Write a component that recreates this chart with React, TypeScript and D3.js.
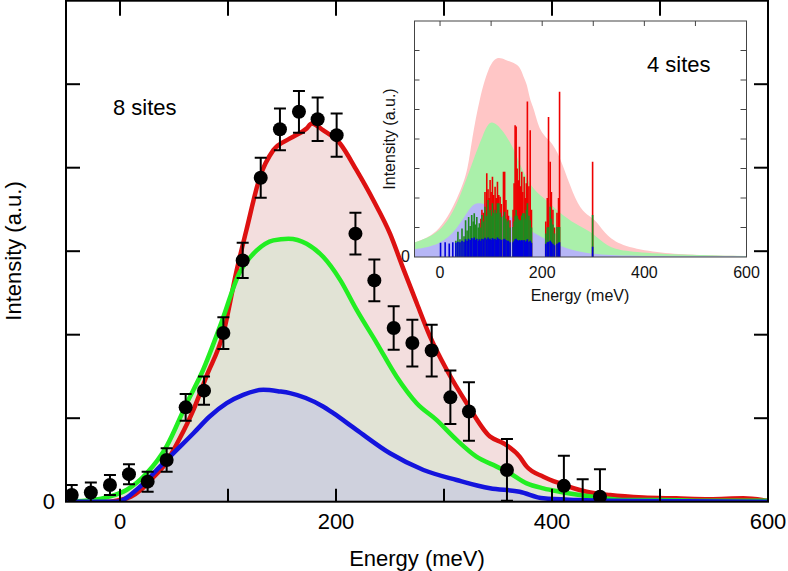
import React from "react";
import * as d3 from "d3";

// ---------- Main panel data (8 sites) ----------
const redCurveE = [-50, -10, 0, 10, 20, 30, 40, 46, 55, 68, 80, 95.7, 108, 117, 129.6, 142, 157.4, 172.8, 177.5, 188, 203.7, 219, 234.6, 250, 262, 274.7, 287, 302.5, 321, 342.6, 355, 370, 376.6, 392, 407, 432, 453.7, 484.5, 515, 546, 577, 600];
const redCurveI = [0, 0, 0.02, 0.06, 0.15, 0.28, 0.42, 0.54, 0.75, 1.1, 1.5, 2.02, 2.77, 3.25, 3.89, 4.21, 4.35, 4.47, 4.53, 4.45, 4.29, 3.97, 3.61, 3.21, 2.8, 2.38, 1.98, 1.58, 1.18, 0.78, 0.7, 0.54, 0.42, 0.3, 0.22, 0.12, 0.08, 0.05, 0.04, 0.03, 0.04, 0.01];

const greenCurveE = [-50, -25, -10, 6, 24.7, 43, 61.8, 77, 92.6, 111, 126.6, 142, 156, 172.8, 188.3, 203.7, 219, 237.7, 256, 274.7, 293, 311.7, 330, 348.8, 361, 376.6, 392, 407, 438, 469, 500, 550, 600];
const greenCurveI = [0, 0.02, 0.06, 0.14, 0.34, 0.66, 1.18, 1.58, 2.1, 2.75, 3.01, 3.13, 3.15, 3.09, 2.93, 2.66, 2.3, 1.9, 1.5, 1.18, 0.98, 0.74, 0.54, 0.42, 0.34, 0.22, 0.16, 0.12, 0.06, 0.02, 0.02, 0.01, 0.01];

const blueCurveE = [-50, -3, 18.5, 37, 52.5, 68, 83, 98.8, 114, 132.7, 148, 157.4, 188, 197.5, 219, 250, 281, 311.7, 342.6, 370, 392, 423, 450, 600];
const blueCurveI = [0, 0, 0.18, 0.42, 0.62, 0.82, 1.02, 1.18, 1.28, 1.34, 1.32, 1.3, 1.14, 1.06, 0.86, 0.58, 0.38, 0.26, 0.16, 0.12, 0.04, 0.02, 0.01, 0];

const pointE = [-44.7, -27, -9.3, 8.3, 25.6, 43.2, 60.8, 77.8, 95.7, 113.6, 130.3, 148.1, 165.7, 183, 200.6, 218, 235.5, 253.4, 270.7, 288.6, 305.9, 323.1, 358.3, 411, 428.4, 444.4];
const pointI = [0.08, 0.11, 0.2, 0.33, 0.24, 0.5, 1.13, 1.33, 2.02, 2.89, 3.88, 4.46, 4.67, 4.58, 4.39, 3.21, 2.65, 2.08, 1.9, 1.81, 1.25, 1.08, 0.38, 0.19, -0.1, 0.06];
const pointErr = [0.12, 0.12, 0.12, 0.12, 0.12, 0.14, 0.16, 0.17, 0.19, 0.21, 0.24, 0.25, 0.25, 0.26, 0.26, 0.25, 0.25, 0.26, 0.28, 0.31, 0.32, 0.35, 0.37, 0.36, 0.37, 0.33];

const mainXTicks = [0, 100, 200, 300, 400, 500];
const mainXLabels = [0, 200, 400, 600];
const mainYTicks = [1, 2, 3, 4, 5];

// ---------- Inset data (4 sites) ----------
const insetPinkE = [-50, 0, 40, 55, 62, 78, 95, 111, 127.5, 143.7, 157, 163, 170, 176, 183, 196, 215.7, 235, 255, 274.5, 294, 307, 327, 359.5, 425, 490, 600];
const insetPinkI = [0.49, 0.8, 2.2, 3.0, 3.97, 5.43, 6.45, 6.81, 6.68, 6.59, 6.45, 6.11, 5.89, 5.32, 5.09, 4.19, 3.97, 3.4, 2.38, 1.6, 1.37, 1.2, 0.69, 0.35, 0.15, 0.07, 0.03];

const insetGreenE = [-50, 0, 32.7, 65, 85, 98, 117.6, 143.7, 163, 183, 209, 241.8, 274.5, 300.6, 327, 359.5, 425, 600];
const insetGreenI = [0.49, 0.8, 1.7, 3.29, 4.19, 4.67, 4.42, 3.74, 2.84, 2.27, 1.93, 1.37, 1.03, 0.8, 0.35, 0.2, 0.1, 0.03];

const insetBlueE = [-50, 0, 32.7, 59, 72, 98, 130.7, 163, 196, 228.8, 268, 307, 400, 600];
const insetBlueI = [0.26, 0.41, 0.92, 1.7, 1.87, 1.76, 1.48, 1.03, 0.69, 0.41, 0.18, 0.08, 0.03, 0.02];

const stickE = [1, 10, 18, 25, 31, 35, 39, 43, 47, 50, 53, 56, 59, 62, 65, 67, 70, 72, 75, 77, 80, 82, 85, 88, 91.5, 94, 96, 98, 100, 102.6, 105, 107.8, 110, 112.4, 115, 117.6, 120, 124.2, 126.5, 129, 132, 134, 137, 143, 145, 147, 149, 151, 153, 155.5, 158, 160, 162, 164.7, 167, 169, 171, 174, 176.5, 179, 207, 210, 212.4, 215.7, 218, 221, 224, 229, 232, 234, 298.7];
const stickRed = [0, 0, 0, 0, 0, 0, 0, 0, 0, 0, 0, 0, 0, 0, 0, 0, 0, 0, 0, 0, 1.3, 1.6, 1.5, 2.2, 2.84, 2.3, 2.0, 2.61, 2.2, 2.72, 2.1, 2.38, 2.0, 2.55, 2.1, 2.04, 1.8, 2.89, 2.89, 1.93, 1.6, 1.4, 1.25, 1.6, 2.5, 4.47, 4.42, 3.0, 2.6, 3.74, 2.4, 2.89, 2.2, 2.72, 2.0, 2.5, 5.27, 2.4, 4.3, 1.6, 1.2, 2.0, 4.75, 3.23, 2.2, 1.6, 1.0, 1.5, 2.0, 5.6, 3.23];
const stickGreen = [0, 0, 0, 0, 0.55, 0.86, 0.6, 0.97, 0.7, 1.25, 0.9, 1.36, 1.05, 1.42, 1.2, 1.48, 1.1, 1.36, 1.0, 1.14, 1.0, 1.42, 1.2, 1.7, 1.4, 1.93, 1.5, 1.59, 1.4, 1.82, 1.5, 1.6, 1.48, 1.82, 1.82, 1.5, 1.36, 1.4, 1.53, 1.3, 1.2, 1.25, 1.0, 1.02, 1.2, 1.4, 1.59, 1.4, 1.3, 1.25, 1.25, 1.4, 1.48, 1.48, 1.3, 1.6, 1.82, 1.4, 1.25, 1.0, 0.8, 1.0, 1.02, 1.7, 1.3, 1.1, 0.8, 1.02, 1.02, 1.02, 1.42];
const stickBlue = [0.48, 0.5, 0.46, 0.5, 0.48, 0.52, 0.5, 0.55, 0.52, 0.6, 0.55, 0.62, 0.58, 0.64, 0.6, 0.66, 0.58, 0.62, 0.55, 0.6, 0.55, 0.62, 0.6, 0.65, 0.6, 0.66, 0.6, 0.62, 0.58, 0.64, 0.6, 0.62, 0.58, 0.66, 0.62, 0.6, 0.58, 0.6, 0.62, 0.58, 0.55, 0.55, 0.5, 0.5, 0.55, 0.6, 0.62, 0.58, 0.55, 0.58, 0.55, 0.58, 0.55, 0.58, 0.52, 0.55, 0.6, 0.52, 0.55, 0.48, 0.45, 0.5, 0.52, 0.55, 0.5, 0.45, 0.4, 0.45, 0.48, 0.5, 0.35];

const insetXTicks = [0, 100, 200, 300, 400, 500];
const insetXLabels = [0, 200, 400, 600];
const insetYTicks = [1, 2, 3, 4, 5, 6, 7];

const FONT = "'Liberation Sans', Arial, Helvetica, sans-serif";

function zip(es: number[], is: number[]): [number, number][] {
  return es.map((e, i) => [e, is[i]]);
}

export default function App() {
  // main scales
  const x = d3.scaleLinear().domain([-50, 600]).range([66, 768]);
  const y = d3.scaleLinear().domain([0, 6]).range([501.7, 0.7]);
  // inset scales
  const ix = d3.scaleLinear().domain([-50, 600]).range([414.5, 746.5]);
  const iy = d3.scaleLinear().domain([0, 8]).range([257, 21]);

  const area = d3
    .area<[number, number]>()
    .x((d) => x(d[0]))
    .y0(y(0))
    .y1((d) => y(d[1]))
    .curve(d3.curveMonotoneX);
  const line = d3
    .line<[number, number]>()
    .x((d) => x(d[0]))
    .y((d) => y(d[1]))
    .curve(d3.curveMonotoneX);
  const iarea = d3
    .area<[number, number]>()
    .x((d) => ix(d[0]))
    .y0(iy(0))
    .y1((d) => iy(d[1]))
    .curve(d3.curveBasis);

  const red = zip(redCurveE, redCurveI);
  const green = zip(greenCurveE, greenCurveI);
  const blue = zip(blueCurveE, blueCurveI);

  const [x0, x1] = x.range();
  const [yb, yt] = y.range();
  const [ix0, ix1] = ix.range();
  const [iyb, iyt] = iy.range();

  return (
    <svg
      width={788}
      height={571}
      style={{ position: "absolute", left: 0, top: 0, background: "#fff" }}
      fontFamily={FONT}
    >
      <defs>
        <clipPath id="mainClip">
          <rect x={x0} y={yt} width={x1 - x0} height={yb - yt} />
        </clipPath>
        <clipPath id="insetClip">
          <rect x={ix0} y={iyt} width={ix1 - ix0} height={iyb - iyt} />
        </clipPath>
      </defs>

      {/* main fills and lines */}
      <g clipPath="url(#mainClip)">
        <path d={area(red) || ""} fill="#f3dede" />
        <path d={area(green) || ""} fill="#e1e3d5" />
        <path d={area(blue) || ""} fill="#cfd1dd" />
        <path d={line(red) || ""} fill="none" stroke="#dd1111" strokeWidth={4.5} strokeLinejoin="round" />
        <path d={line(green) || ""} fill="none" stroke="#22ee22" strokeWidth={4.5} strokeLinejoin="round" />
        <path d={line(blue) || ""} fill="none" stroke="#1414dd" strokeWidth={4.5} strokeLinejoin="round" />
        {pointE.map((e, i) => {
          const cx = x(e);
          const cy = y(pointI[i]);
          const top = y(pointI[i] + pointErr[i]);
          const bot = y(pointI[i] - pointErr[i]);
          return (
            <g key={i}>
              <line x1={cx} x2={cx} y1={top} y2={bot} stroke="#000" strokeWidth={2} />
              <line x1={cx - 6} x2={cx + 6} y1={top} y2={top} stroke="#000" strokeWidth={2} />
              <line x1={cx - 6} x2={cx + 6} y1={bot} y2={bot} stroke="#000" strokeWidth={2} />
              <circle cx={cx} cy={cy} r={7} fill="#000" />
            </g>
          );
        })}
      </g>

      {/* main frame and ticks */}
      <rect x={x0} y={yt} width={x1 - x0} height={yb - yt} fill="none" stroke="#000" strokeWidth={2} />
      {mainXTicks.map((t) => (
        <g key={"mx" + t}>
          <line x1={x(t)} x2={x(t)} y1={yb} y2={yb - 13} stroke="#000" strokeWidth={2} />
          <line x1={x(t)} x2={x(t)} y1={yt} y2={yt + 15} stroke="#000" strokeWidth={2} />
        </g>
      ))}
      {mainYTicks.map((t) => (
        <g key={"my" + t}>
          <line x1={x0} x2={x0 + 14} y1={y(t)} y2={y(t)} stroke="#000" strokeWidth={2} />
          <line x1={x1} x2={x1 - 14} y1={y(t)} y2={y(t)} stroke="#000" strokeWidth={2} />
        </g>
      ))}
      {mainXLabels.map((t) => (
        <text key={"mxl" + t} x={x(t)} y={529} textAnchor="middle" fontSize={22} fill="#000">
          {t}
        </text>
      ))}
      <text x={55} y={509} textAnchor="end" fontSize={22} fill="#000">0</text>
      <text x={417} y={566} textAnchor="middle" fontSize={22} fill="#000">Energy (meV)</text>
      <text transform={`translate(21,251) rotate(-90)`} textAnchor="middle" fontSize={22} fill="#000">
        Intensity (a.u.)
      </text>
      <text x={113} y={115} fontSize={22} fill="#000">8 sites</text>

      {/* inset */}
      <rect x={ix0} y={iyt} width={ix1 - ix0} height={iyb - iyt} fill="#fff" />
      <g clipPath="url(#insetClip)">
        <path d={iarea(zip(insetPinkE, insetPinkI)) || ""} fill="#ffc6c6" />
        <path d={iarea(zip(insetGreenE, insetGreenI)) || ""} fill="#aaf0aa" />
        <path d={iarea(zip(insetBlueE, insetBlueI)) || ""} fill="#b6b6f6" />
        {stickE.map((e, i) =>
          stickRed[i] > 0 ? (
            <line key={"sr" + i} x1={ix(e)} x2={ix(e)} y1={iy(0)} y2={iy(stickRed[i])} stroke="#ee0000" strokeWidth={1.6} />
          ) : null
        )}
        {stickE.map((e, i) =>
          stickGreen[i] > 0 ? (
            <line key={"sg" + i} x1={ix(e)} x2={ix(e)} y1={iy(0)} y2={iy(stickGreen[i])} stroke="#1f8a1f" strokeWidth={1.6} />
          ) : null
        )}
        {stickE.map((e, i) => (
          <line key={"sb" + i} x1={ix(e)} x2={ix(e)} y1={iy(0)} y2={iy(stickBlue[i])} stroke="#0000dd" strokeWidth={1.6} />
        ))}
      </g>
      <rect x={ix0} y={iyt} width={ix1 - ix0} height={iyb - iyt} fill="none" stroke="#444" strokeWidth={1} />
      {insetXTicks.map((t) => (
        <line key={"ixt" + t} x1={ix(t)} x2={ix(t)} y1={iyt} y2={iyt + 5} stroke="#444" strokeWidth={1} />
      ))}
      {insetYTicks.map((t) => (
        <g key={"iyt" + t}>
          <line x1={ix0} x2={ix0 + 5} y1={iy(t)} y2={iy(t)} stroke="#444" strokeWidth={1} />
          <line x1={ix1} x2={ix1 - 6} y1={iy(t)} y2={iy(t)} stroke="#444" strokeWidth={1} />
        </g>
      ))}
      {insetXLabels.map((t) => (
        <text key={"ixl" + t} x={ix(t)} y={278} textAnchor="middle" fontSize={16} fill="#111">
          {t}
        </text>
      ))}
      <text x={410} y={262} textAnchor="end" fontSize={16} fill="#111">0</text>
      <text x={580} y={301} textAnchor="middle" fontSize={16} fill="#111">Energy (meV)</text>
      <text transform={`translate(395,139) rotate(-90)`} textAnchor="middle" fontSize={16} fill="#111">
        Intensity (a.u.)
      </text>
      <text x={647} y={72} fontSize={22} fill="#000">4 sites</text>
    </svg>
  );
}
